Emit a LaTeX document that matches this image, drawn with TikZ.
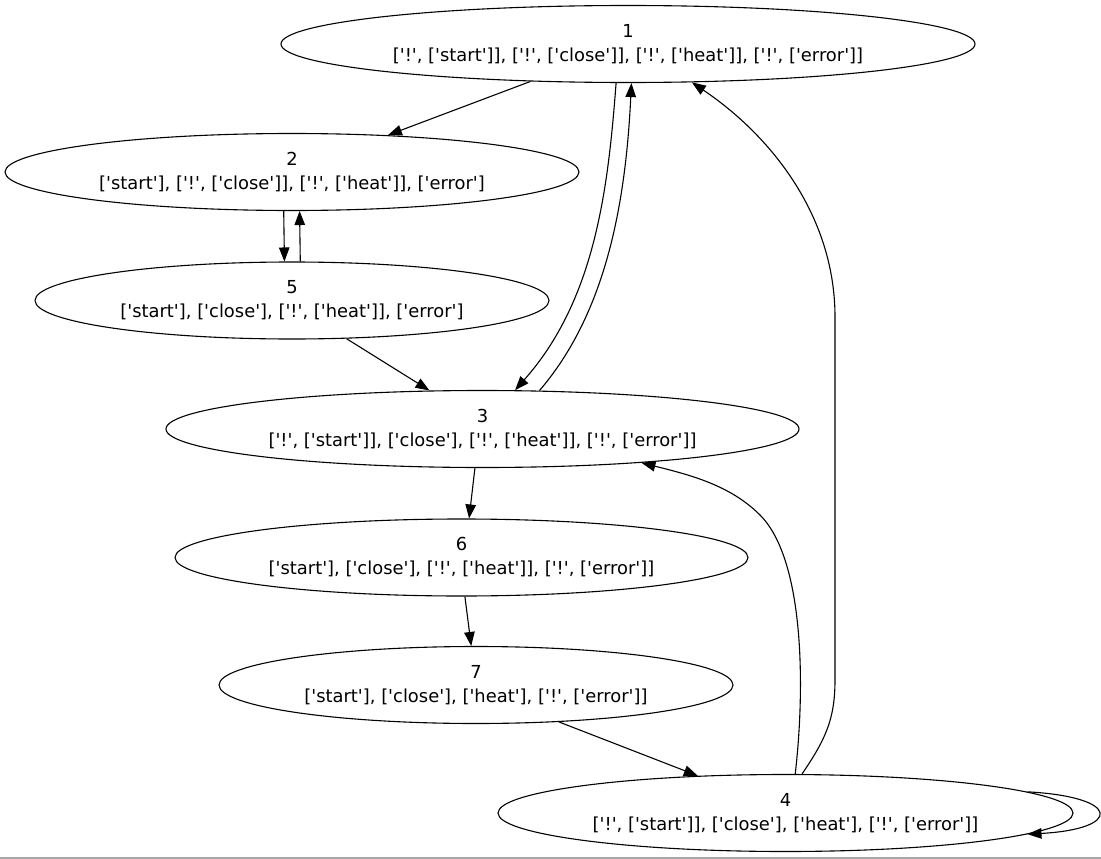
\documentclass[tikz,border=0pt]{standalone}
\usepackage{fontspec}
\setmainfont{DejaVu Sans}[Ligatures=TeXOff]
\usetikzlibrary{shapes.geometric,arrows.meta}
\begin{document}
\begin{tikzpicture}[x=1pt,y=-1pt,
  state/.style={ellipse,draw,line width=1.1pt,inner sep=0pt,minimum height=77pt},
  txt/.style={font=\fontsize{17.9}{24}\selectfont,align=center,inner sep=0pt},
  edge/.style={line width=1.1pt,-{Triangle[length=14pt,width=10.5pt]}}]
\useasboundingbox (0,0) rectangle (1101,859);
\draw[line width=2pt,color=black!35] (0,857.5) -- (1101,857.5);

% states
\node[state,minimum width=694pt] (n1) at (628,44) {};
\node[txt] at (n1) {1\\{}['!', ['start']], ['!', ['close']], ['!', ['heat']], ['!', ['error']]};
\node[state,minimum width=574pt] (n2) at (292,172) {};
\node[txt] at (n2) {2\\{}['start'], ['!', ['close']], ['!', ['heat']], ['error']};
\node[state,minimum width=514pt] (n5) at (292,300.5) {};
\node[txt] at (n5) {5\\{}['start'], ['close'], ['!', ['heat']], ['error']};
\node[state,minimum width=633pt] (n3) at (482.5,429) {};
\node[txt] at (n3) {3\\{}['!', ['start']], ['close'], ['!', ['heat']], ['!', ['error']]};
\node[state,minimum width=573pt] (n6) at (461.5,557.5) {};
\node[txt] at (n6) {6\\{}['start'], ['close'], ['!', ['heat']], ['!', ['error']]};
\node[state,minimum width=514pt] (n7) at (476,685) {};
\node[txt] at (n7) {7\\{}['start'], ['close'], ['heat'], ['!', ['error']]};
\node[state,minimum width=575pt] (n4) at (785.5,813) {};
\node[txt] at (n4) {4\\{}['!', ['start']], ['close'], ['heat'], ['!', ['error']]};

% transitions
\draw[edge] (n1.201.3) -- (n2.21.1);
\draw[edge] (n2.258.4) -- (n5.101.9);
\draw[edge] (n5.78.1) -- (n2.281.6);
\draw[edge] (n5.-35.5) -- (n3.144.9);
\draw[edge] (n1.253.3) .. controls (608,190) and (595,300) .. (n3.50.3);
\draw[edge] (n3.34.9) .. controls (600,320) and (625,220) .. (n1.275.7);
\draw[edge] (n3.259.1) -- (n6.79);
\draw[edge] (n6.275.2) -- (n7.97.3);
\draw[edge] (n7.336.9) -- (n4.157.4);
\draw[edge] (n4.76.3) .. controls (805,690) and (805,560) .. (760,515)
  .. controls (730,485) and (690,475) .. (n3.-12);
\draw[edge] (n4.67) .. controls (825,740) and (835,720) .. (835,680) -- (835,317)
  .. controls (835,215) and (770,135) .. (n1.-31);
\draw[edge] (n4.5.5) .. controls (1122,797) and (1122,829) .. (n4.-5.5);
\end{tikzpicture}
\end{document}
